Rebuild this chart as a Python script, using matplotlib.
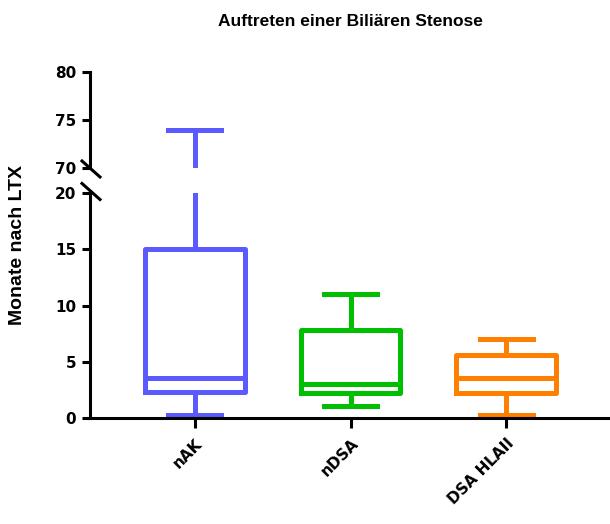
import matplotlib
matplotlib.use("Agg")
import matplotlib.pyplot as plt

# data (months after LTX)
groups = ["nAK", "nDSA", "DSA HLAII"]
whislo = [0.2, 1.0, 0.2]
q1 = [2.3, 2.2, 2.2]
med = [3.5, 3.0, 3.5]
q3 = [15.0, 7.8, 5.55]
whishi = [74.0, 11.0, 7.0]
colors = ["#5A5AFF", "#00BF00", "#FF8000"]

title = "Auftreten einer Biliären Stenose"
ylabel = "Monate nach LTX"
top_ticks = [70, 75, 80]
bottom_ticks = [0, 5, 10, 15, 20]

stats = [dict(label=g, whislo=lo, q1=a, med=m, q3=b, whishi=hi)
         for g, lo, a, m, b, hi in zip(groups, whislo, q1, med, q3, whishi)]

fig = plt.figure(figsize=(6.10, 5.24), dpi=100)
left, right = 90 / 610, 609 / 610
ax_top = fig.add_axes([left, 0.6786, right - left, 0.8632 - 0.6786])
ax_bot = fig.add_axes([left, 0.2029, right - left, 0.6309 - 0.2029])

lw = 3.6
for ax in (ax_top, ax_bot):
    for i, (s, c) in enumerate(zip(stats, colors)):
        ax.bxp([s], positions=[i], widths=0.64, capwidths=0.34, showfliers=False,
               boxprops=dict(color=c, lw=lw),
               medianprops=dict(color=c, lw=lw),
               whiskerprops=dict(color=c, lw=lw),
               capprops=dict(color=c, lw=lw),
               manage_ticks=False)
    ax.set_xlim(-0.673, 2.66)
    for side in ("top", "right"):
        ax.spines[side].set_visible(False)
    ax.spines["left"].set_linewidth(2.2)
    ax.spines["bottom"].set_linewidth(2.2)
    ax.tick_params(axis="y", width=2.2, length=6, labelsize=11, pad=4)

ax_top.set_ylim(70, 80)
ax_top.set_yticks(top_ticks)
ax_top.spines["bottom"].set_visible(False)
ax_top.set_xticks([])
ax_bot.set_ylim(0, 20)
ax_bot.set_yticks(bottom_ticks)
ax_bot.set_xticks(range(len(groups)))
ax_bot.set_xticklabels(groups, rotation=45, ha="right", rotation_mode="anchor",
                       fontsize=11, fontweight="bold")
ax_bot.tick_params(axis="x", width=2.2, length=7, pad=6)
for ax in (ax_top, ax_bot):
    for lab in ax.get_yticklabels():
        lab.set_fontweight("bold")

# break marks on the y axis
kw = dict(color="black", lw=2.2, clip_on=False, transform=fig.transFigure)
for yc in (1 - 169 / 524, 1 - 191.5 / 524):
    fig.add_artist(plt.Line2D([82 / 610, 100 / 610], [yc + 8 / 524, yc - 8 / 524], **kw))

fig.text(350 / 610, 1 - 21 / 524, title, ha="center", va="center",
         fontsize=12.5, fontweight="bold", family="Liberation Sans")
fig.text(18 / 610, 1 - 245 / 524, ylabel, ha="center", va="center", rotation=90,
         fontsize=14, fontweight="bold", family="Liberation Sans")

fig.savefig("out.png", dpi=100)
